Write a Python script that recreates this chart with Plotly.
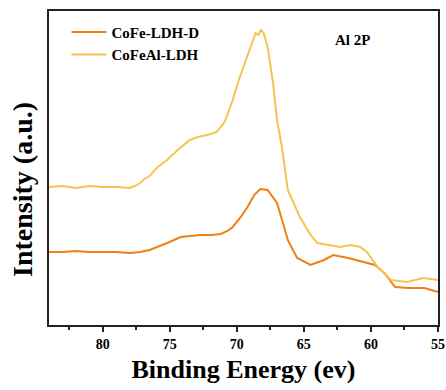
import plotly.graph_objects as go

# CoFeAl-LDH (yellow) : binding energy (eV) and intensity (a.u.)
be_al = [84.0, 83.0, 82.0, 81.0, 80.0, 79.0, 78.0, 77.6, 77.2, 76.9, 76.5, 75.9, 75.2, 74.4,
         73.5, 72.9, 72.2, 71.5, 70.9, 70.6, 70.3, 69.9, 69.5, 69.0, 68.8, 68.6, 68.4, 68.2,
         68.0, 67.7, 67.3, 67.0, 66.6, 66.2, 65.3, 64.5, 64.0, 63.2, 62.3, 61.5, 60.8, 60.3,
         59.5, 58.5, 57.3, 56.1, 55.0]
int_al = [138, 139, 137, 139, 138, 138, 137, 139, 142, 146, 149, 158, 165, 175,
          185, 188, 190, 193, 203, 213, 225, 243, 258, 278, 285, 292, 290, 295,
          292, 278, 242, 205, 175, 135, 108, 90, 82, 80, 78, 80, 78, 73,
          58, 45, 43, 47, 45]

# CoFe-LDH-D (orange)
be_d = [84.0, 83.0, 82.0, 81.0, 80.0, 79.0, 78.0, 77.2, 76.5, 75.9, 75.0, 74.2, 73.5, 72.7,
        71.9, 71.2, 70.7, 70.3, 69.7, 69.2, 68.7, 68.25, 67.7, 67.3, 67.0, 66.6, 66.2,
        65.5, 64.5, 63.5, 62.8, 61.7, 60.5, 59.7, 59.0, 58.2, 57.2, 56.0, 55.0]
int_d = [73, 73, 74, 73, 73, 73, 72, 73, 75, 78, 83, 88, 89, 90,
         90, 91, 94, 98, 108, 118, 130, 136, 135, 127, 122, 104, 85,
         67, 60, 65, 70, 67, 63, 60, 52, 38, 37, 37, 33]

series_names = ["CoFe-LDH-D", "CoFeAl-LDH"]
x_ticks = [80, 75, 70, 65, 60, 55]

font_family = "Liberation Serif, 'Times New Roman', Times, serif"

fig = go.Figure()
fig.add_trace(go.Scatter(x=be_d, y=int_d, mode="lines", name="<b>" + series_names[0] + "</b>",
                         line=dict(color="#F07F14", width=2)))
fig.add_trace(go.Scatter(x=be_al, y=int_al, mode="lines", name="<b>" + series_names[1] + "</b>",
                         line=dict(color="#F6C350", width=2)))

fig.update_layout(
    width=446, height=390,
    margin=dict(l=49, r=8, t=11, b=65),
    plot_bgcolor="white", paper_bgcolor="white",
    font=dict(family=font_family, color="black"),
    showlegend=True,
    legend=dict(x=0.045, y=0.985, xanchor="left", yanchor="top",
                font=dict(family=font_family, size=15, color="black"),
                bgcolor="rgba(0,0,0,0)", tracegroupgap=0, itemwidth=35),
    xaxis=dict(range=[84.0, 55.0], tickvals=x_ticks, ticks="outside", ticklen=5,
               tickwidth=1.5, tickcolor="#222", automargin=False,
               ticktext=["<b>%d</b>" % v for v in x_ticks],
               minor=dict(dtick=2.5, ticks="outside", ticklen=3, tickcolor="#222", showgrid=False),
               showline=True, linecolor="#222", linewidth=1.5, mirror=True,
               showgrid=False, zeroline=False,
               tickfont=dict(family=font_family, size=14, color="black"),
               title=dict(text="<b>Binding Energy (ev)</b>", standoff=9,
                          font=dict(family=font_family, size=26, color="black"))),
    yaxis=dict(range=[0, 314], showticklabels=False, ticks="", automargin=False,
               showline=True, linecolor="#222", linewidth=1.5, mirror=True,
               showgrid=False, zeroline=False),
    annotations=[
        dict(text="<b>Al 2P</b>", x=0.78, y=0.908, xref="paper", yref="paper",
             xanchor="center", yanchor="middle",
             showarrow=False, font=dict(family=font_family, size=15, color="black")),
        dict(text="<b>Intensity (a.u.)</b>", x=0, y=0.43, xref="paper", yref="paper",
             xanchor="center", yanchor="middle", xshift=-26, textangle=-90,
             showarrow=False, font=dict(family=font_family, size=28, color="black")),
    ],
)
fig.write_html("out.html", config={"displayModeBar": False},
               post_script="document.body.style.margin='0';")
